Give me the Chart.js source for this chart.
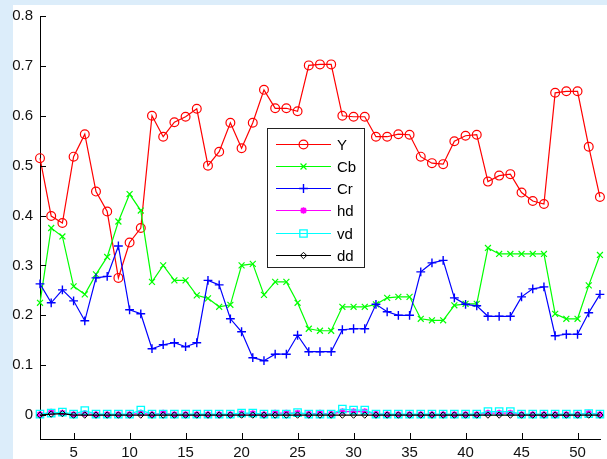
<!DOCTYPE html>
<html>
<head>
<meta charset="utf-8">
<script src="https://cdn.jsdelivr.net/npm/chart.js@4"></script>
<style>
html,body{margin:0;padding:0;background:#dcedfa;}
canvas{display:block;}
</style>
</head>
<body>
<canvas id="c" width="607" height="459"></canvas>
<script>
const xValues = [2,3,4,5,6,7,8,9,10,11,12,13,14,15,16,17,18,19,20,21,22,23,24,25,26,27,28,29,30,31,32,33,34,35,36,37,38,39,40,41,42,43,44,45,46,47,48,49,50,51,52];
const seriesY  = [0.515,0.399,0.385,0.518,0.563,0.448,0.408,0.275,0.346,0.375,0.600,0.558,0.587,0.598,0.614,0.500,0.528,0.586,0.535,0.586,0.652,0.615,0.615,0.609,0.701,0.703,0.703,0.600,0.598,0.598,0.558,0.558,0.563,0.562,0.518,0.505,0.503,0.549,0.560,0.562,0.468,0.480,0.483,0.446,0.429,0.423,0.646,0.649,0.649,0.538,0.437];
const seriesCb = [0.225,0.375,0.358,0.258,0.242,0.282,0.317,0.388,0.443,0.410,0.267,0.300,0.270,0.270,0.240,0.234,0.217,0.221,0.300,0.303,0.241,0.267,0.267,0.225,0.173,0.169,0.169,0.217,0.217,0.217,0.222,0.235,0.237,0.237,0.193,0.190,0.190,0.220,0.223,0.223,0.335,0.323,0.323,0.323,0.323,0.323,0.203,0.193,0.193,0.260,0.321];
const seriesCr = [0.263,0.225,0.251,0.229,0.189,0.275,0.278,0.339,0.211,0.203,0.133,0.141,0.145,0.137,0.145,0.270,0.261,0.193,0.167,0.115,0.109,0.122,0.122,0.160,0.127,0.127,0.127,0.171,0.173,0.173,0.222,0.207,0.200,0.200,0.287,0.305,0.310,0.235,0.222,0.219,0.198,0.198,0.198,0.237,0.253,0.257,0.159,0.162,0.162,0.205,0.242];
const seriesHd = [0.001,0.006,0.004,0.001,0.003,0.001,0.001,0.001,0.001,0.004,0.001,0.004,0.001,0.001,0.001,0.001,0.001,0.001,0.003,0.003,0.001,0.004,0.004,0.004,0.002,0.004,0.002,0.007,0.007,0.007,0.002,0.001,0.001,0.001,0.001,0.001,0.001,0.001,0.001,0.001,0.004,0.004,0.004,0.001,0.001,0.001,0.001,0.001,0.001,0.004,0.001];
const seriesVd = [0.002,0.004,0.006,0.002,0.009,0.002,0.002,0.002,0.002,0.010,0.002,0.002,0.002,0.002,0.002,0.002,0.002,0.002,0.004,0.004,0.002,0.002,0.002,0.005,0.002,0.002,0.002,0.012,0.010,0.010,0.002,0.002,0.002,0.002,0.002,0.002,0.002,0.002,0.002,0.002,0.007,0.007,0.007,0.002,0.002,0.002,0.002,0.002,0.002,0.003,0.002];
const seriesDd = [0,0.002,0.003,0,0,0,0,0,0,0,0,0,0,0,0,0,0,0,0,0,0,0,0,0,0,0,0,0,0,0,0,0,0,0,0,0,0,0,0,0,0,0,0,0,0,0,0,0,0,0,0];
const seriesLabels = ['Y','Cb','Cr','hd','vd','dd'];
const xTicks = [5,10,15,20,25,30,35,40,45,50];
const yTicks = [0,0.1,0.2,0.3,0.4,0.5,0.6,0.7,0.8];
const yTickLabels = ['0','0.1','0.2','0.3','0.4','0.5','0.6','0.7','0.8'];

const FONT = 'Liberation Sans, Arial, sans-serif';
const toPts = arr => arr.map((v,i)=>({x:xValues[i], y:v}));

const styles = [
  {color:'#ff0000', pointStyle:'circle',   radius:4.4, pw:1.2},
  {color:'#00ff00', pointStyle:'crossRot', radius:4.2, pw:1.2},
  {color:'#0000ff', pointStyle:'cross',    radius:4.4, pw:1.4},
  {color:'#ff00ff', pointStyle:'star',     radius:3.3, pw:1.8},
  {color:'#00ffff', pointStyle:'rect',     radius:5.2, pw:1.3},
  {color:'#000000', pointStyle:'rectRot',  radius:3.2, pw:1}
];
const allSeries = [seriesY, seriesCb, seriesCr, seriesHd, seriesVd, seriesDd];

const datasets = allSeries.map((s,i)=>({
  label: seriesLabels[i],
  data: toPts(s),
  borderColor: styles[i].color,
  backgroundColor: 'rgba(0,0,0,0)',
  borderWidth: 1.2,
  pointStyle: styles[i].pointStyle,
  pointRadius: styles[i].radius,
  pointBorderColor: styles[i].color,
  pointBackgroundColor: 'rgba(0,0,0,0)',
  pointBorderWidth: styles[i].pw,
  tension: 0,
  clip: false,
  order: 5 - i
}));

const bgPlugin = {
  id:'bg',
  beforeDraw(chart){
    const ctx = chart.ctx;
    ctx.save();
    ctx.fillStyle = '#dcedfa';
    ctx.fillRect(0,0,chart.width,chart.height);
    ctx.fillStyle = '#ffffff';
    ctx.fillRect(13,5,chart.width-13,chart.height-5);
    ctx.restore();
  }
};

const tickPlugin = {
  id:'inticks',
  afterDraw(chart){
    const ctx = chart.ctx, xs = chart.scales.x, ys = chart.scales.y, a = chart.chartArea;
    ctx.save();
    ctx.strokeStyle = '#000';
    ctx.lineWidth = 1;
    ctx.beginPath();
    yTicks.forEach(v=>{
      const y = Math.round(ys.getPixelForValue(v)) + 0.5;
      ctx.moveTo(a.left, y); ctx.lineTo(a.left + 6, y);
    });
    xTicks.forEach(v=>{
      const x = Math.round(xs.getPixelForValue(v)) + 0.5;
      ctx.moveTo(x, a.bottom); ctx.lineTo(x, a.bottom - 6);
    });
    ctx.stroke();
    ctx.restore();
  }
};

const legendPlugin = {
  id:'boxlegend',
  afterDraw(chart){
    const ctx = chart.ctx;
    const bx = 267.5, by = 128.5, bw = 97, bh = 139;
    ctx.save();
    ctx.fillStyle = '#ffffff';
    ctx.fillRect(bx, by, bw, bh);
    ctx.strokeStyle = '#222';
    ctx.lineWidth = 1;
    ctx.strokeRect(bx, by, bw, bh);
    chart.data.datasets.forEach((ds,i)=>{
      const y = Math.round(143.5 + i*22.3) + 0.5;
      ctx.strokeStyle = ds.borderColor;
      ctx.lineWidth = 1.2;
      ctx.beginPath();
      ctx.moveTo(276, y); ctx.lineTo(331, y);
      ctx.stroke();
      ctx.fillStyle = 'rgba(0,0,0,0)';
      ctx.lineWidth = ds.pointBorderWidth;
      Chart.helpers.drawPoint(ctx, {pointStyle: ds.pointStyle, radius: ds.pointRadius, rotation:0, borderWidth:ds.pointBorderWidth}, 303.5, y);
      ctx.fillStyle = '#000';
      ctx.font = '15px ' + FONT;
      ctx.textBaseline = 'middle';
      ctx.textAlign = 'left';
      ctx.fillText(ds.label, 337, y + 1);
    });
    ctx.restore();
  }
};

new Chart(document.getElementById('c'), {
  type:'line',
  data:{datasets},
  plugins:[bgPlugin, tickPlugin, legendPlugin],
  options:{
    responsive:false,
    animation:false,
    devicePixelRatio:1,
    events:[],
    layout:{padding:{top:15,left:0,right:0,bottom:0}},
    plugins:{legend:{display:false}, tooltip:{enabled:false}, title:{display:false}},
    scales:{
      x:{
        type:'linear', min:2, max:52.05,
        grid:{display:false, drawTicks:false},
        border:{display:true, color:'#000', width:1},
        ticks:{font:{family:FONT, size:15}, color:'#111', padding:5, maxRotation:0, autoSkip:false,
               callback:(v)=>String(v)},
        afterBuildTicks:s=>{ s.ticks = xTicks.map(v=>({value:v})); },
        afterFit:s=>{ s.height = 20; }
      },
      y:{
        type:'linear', min:-0.048, max:0.8,
        grid:{display:false, drawTicks:false},
        border:{display:true, color:'#000', width:1},
        ticks:{font:{family:FONT, size:15}, color:'#111', padding:7, autoSkip:false,
               callback:(v)=>{ const k = yTicks.findIndex(t=>Math.abs(t-v)<1e-9); return k>=0 ? yTickLabels[k] : ''; }},
        afterBuildTicks:s=>{ s.ticks = yTicks.map(v=>({value:v})); },
        afterFit:s=>{ s.width = 40; }
      }
    }
  }
});
</script>
</body>
</html>
